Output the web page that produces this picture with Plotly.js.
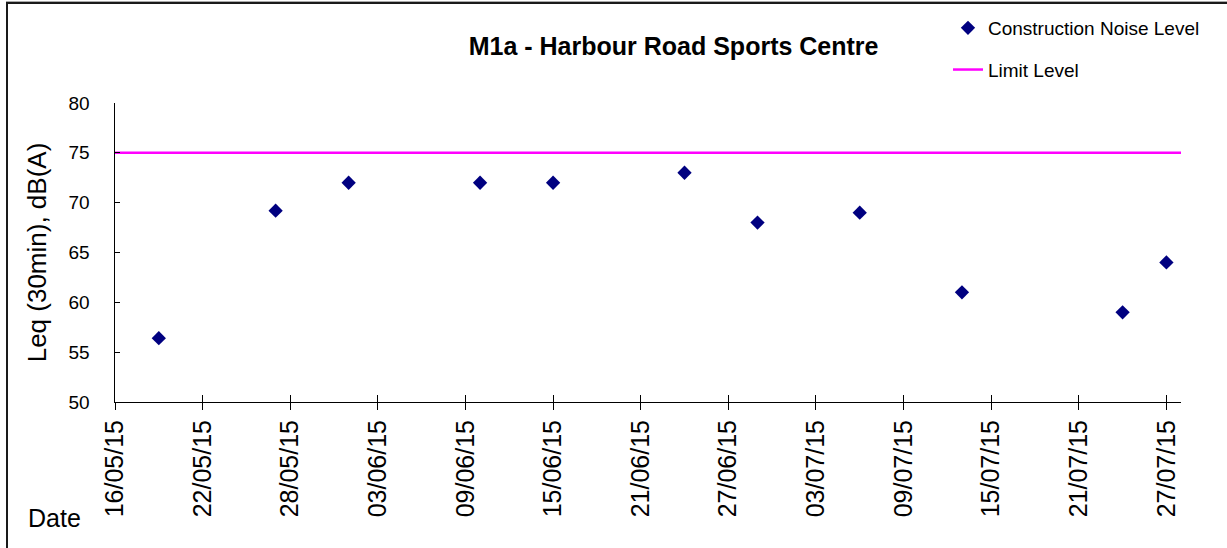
<!DOCTYPE html>
<html>
<head>
<meta charset="utf-8">
<script src="https://cdn.plot.ly/plotly-3.0.1.min.js"></script>
<style>
  html, body { margin: 0; padding: 0; background: #fff; }
  #wrap { position: relative; width: 1227px; height: 548px; }
  #chart { position: absolute; left: 0; top: 0; width: 1227px; height: 548px; }
  #frame { position: absolute; left: 6px; top: 2px; right: -10px; bottom: -10px;
           border-left: 2px solid #1a1a1a; border-top: 2px solid #1a1a1a;
           box-shadow: 0 -1px 0 #aaa; pointer-events: none; }
</style>
</head>
<body>
<div id="wrap">
  <div id="chart"></div>
  <div id="frame"></div>
</div>
<script>
// Data
const noiseDates = ["2015-05-19", "2015-05-27", "2015-06-01", "2015-06-10", "2015-06-15",
                    "2015-06-24", "2015-06-29", "2015-07-06", "2015-07-13", "2015-07-24", "2015-07-27"];
const noiseValues = [56.4, 69.2, 72, 72, 72, 73, 68, 69, 61, 59, 64];
const limitDates = ["2015-05-16", "2015-07-28"];
const limitValues = [75, 75];
const xRange = ["2015-05-16", "2015-07-28"];
const yRange = [50, 80];

const FONT = "Liberation Sans, Arial, sans-serif";

const traces = [
  {
    x: noiseDates, y: noiseValues, type: "scatter", mode: "markers",
    name: "Construction Noise Level", legendgroup: "a",
    marker: { symbol: "diamond", size: 11, color: "#000080" }
  },
  {
    x: limitDates, y: limitValues, type: "scatter", mode: "lines",
    name: "Limit Level", legendgroup: "b",
    line: { color: "#FF00FF", width: 2.5 }
  },
  {
    // overlay axis to draw the inner half of the crossing x ticks
    x: [], y: [], xaxis: "x2", yaxis: "y", showlegend: false, hoverinfo: "skip"
  }
];

const layout = {
  width: 1227, height: 548,
  margin: { l: 115, r: 46, t: 103, b: 146, autoexpand: false },
  paper_bgcolor: "#ffffff", plot_bgcolor: "#ffffff",
  font: { family: FONT, color: "#000000" },
  title: {
    text: "<b>M1a - Harbour Road Sports Centre</b>",
    font: { family: FONT, size: 25, color: "#000" },
    xref: "container", yref: "container",
    x: 0.549, xanchor: "center", y: 0.915, yanchor: "middle"
  },
  showlegend: true,
  legend: {
    xref: "container", yref: "container",
    x: 0.7726, xanchor: "left", y: 0.9836, yanchor: "top",
    font: { family: FONT, size: 19, color: "#000" },
    bgcolor: "rgba(0,0,0,0)", traceorder: "grouped", tracegroupgap: 14
  },
  xaxis: {
    type: "date", range: xRange, tick0: "2015-05-16", dtick: 6 * 86400000,
    tickformat: "%d/%m/%y", tickangle: -90,
    ticks: "outside", ticklen: 7, tickwidth: 1, tickcolor: "#000",
    showline: true, linecolor: "#000", linewidth: 1,
    showgrid: false, zeroline: false,
    tickfont: { family: FONT, size: 25, color: "#000" },
    ticklabelstandoff: 0
  },
  xaxis2: {
    type: "date", range: xRange, tick0: "2015-05-16", dtick: 6 * 86400000,
    overlaying: "x", side: "bottom", anchor: "y",
    ticks: "inside", ticklen: 7, tickwidth: 1, tickcolor: "#000",
    showticklabels: false, showline: false, showgrid: false, zeroline: false
  },
  yaxis: {
    range: yRange, dtick: 5, tick0: 50,
    ticks: "inside", ticklen: 5, tickwidth: 1, tickcolor: "#000",
    showline: true, linecolor: "#000", linewidth: 1.5,
    showgrid: false, zeroline: false,
    tickfont: { family: FONT, size: 19, color: "#000" },
    ticklabelstandoff: 20,
    title: { text: "Leq (30min), dB(A)", font: { family: FONT, size: 26, color: "#000" }, standoff: 14 }
  },
  annotations: [
    {
      text: "Date", xref: "paper", yref: "paper",
      x: -0.0835, y: -0.388, xanchor: "left", yanchor: "middle",
      showarrow: false, font: { family: FONT, size: 25, color: "#000" }
    }
  ]
};

Plotly.newPlot("chart", traces, layout, { displayModeBar: false, staticPlot: true });
</script>
</body>
</html>
